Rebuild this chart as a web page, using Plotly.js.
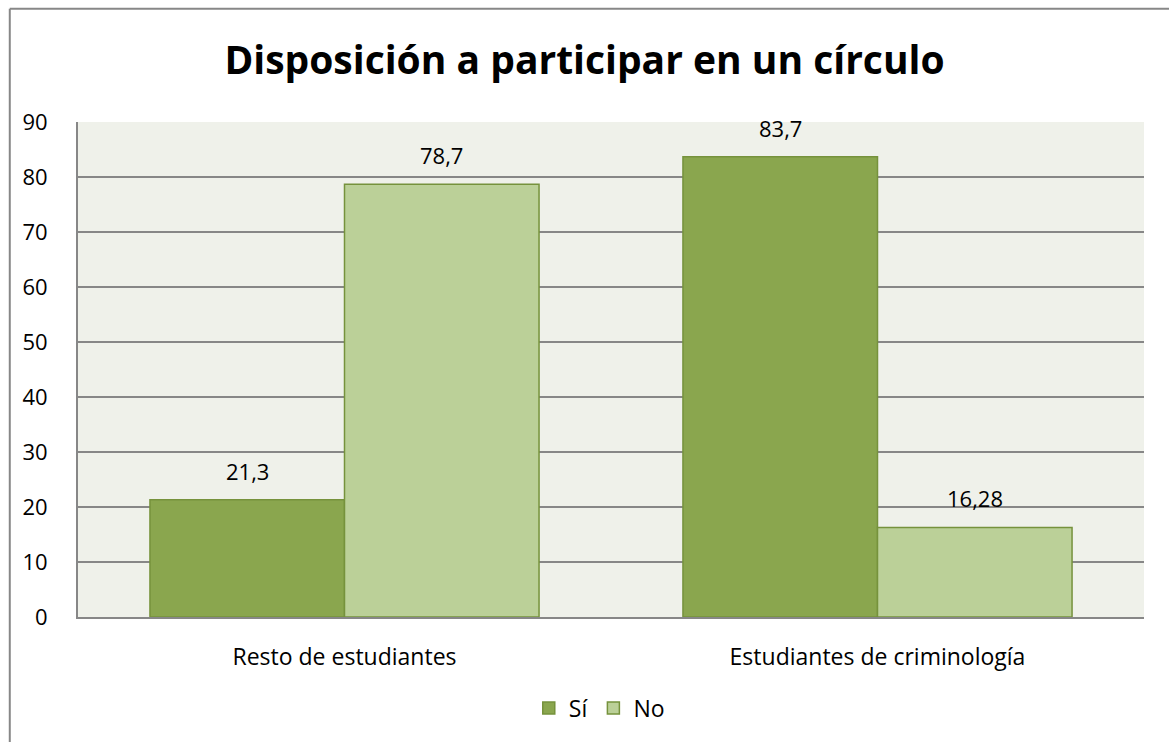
<!DOCTYPE html>
<html>
<head>
<meta charset="utf-8">
<script src="https://cdn.plot.ly/plotly-3.0.1.min.js"></script>
<style>
body{margin:0;padding:0;background:#fff;}
#chart{width:1169px;height:742px;}
</style>
</head>
<body>
<div id="chart"></div>
<script>
var categories = ["Resto de estudiantes", "Estudiantes de criminología"];
var siValues = [21.3, 83.7];
var noValues = [78.7, 16.28];
var seriesNames = ["Sí", "No"];

function label(v){ return String(v).replace(".", ","); }

var fontFam = "'Open Sans', 'Liberation Sans', sans-serif";

var data = [
  {
    type: "bar",
    name: seriesNames[0],
    x: categories,
    y: siValues,
    marker: {color: "#8AA64E", line: {color: "#76923C", width: 1.5}},
    hoverinfo: "none"
  },
  {
    type: "bar",
    name: seriesNames[1],
    x: categories,
    y: noValues,
    marker: {color: "#BBD098", line: {color: "#76923C", width: 1.5}},
    hoverinfo: "none"
  }
];

// value labels above each bar
var annotations = [];
var offsets = [-97, 97];
[siValues, noValues].forEach(function(vals, s){
  vals.forEach(function(v, i){
    annotations.push({
      x: categories[i], y: v, xref: "x", yref: "y",
      text: label(v), showarrow: false,
      xshift: offsets[s], yshift: 12, yanchor: "bottom",
      font: {family: fontFam, size: 22, color: "#000"}
    });
  });
});

var layout = {
  width: 1169,
  height: 742,
  margin: {l: 78, r: 25, t: 122, b: 125},
  paper_bgcolor: "#ffffff",
  plot_bgcolor: "#EFF1EA",
  barmode: "group",
  bargap: 0.27,
  bargroupgap: 0,
  font: {family: fontFam, size: 22, color: "#000"},
  title: {
    text: "<b>Disposición a participar en un círculo</b>",
    font: {family: fontFam, size: 39, color: "#000"},
    x: 0.5, xanchor: "center",
    y: 0.918, yanchor: "middle"
  },
  xaxis: {
    type: "category",
    showline: true, linecolor: "#878787", linewidth: 2,
    showgrid: false,
    ticks: "",
    ticklabelstandoff: 18,
    tickfont: {family: fontFam, size: 23, color: "#000"}
  },
  yaxis: {
    range: [0, 90],
    dtick: 10,
    showline: true, linecolor: "#878787", linewidth: 2,
    gridcolor: "#878787", gridwidth: 1.5,
    zeroline: false,
    ticks: "",
    ticklabelstandoff: 24,
    tickfont: {family: fontFam, size: 22, color: "#000"}
  },
  annotations: annotations,
  showlegend: true,
  legend: {
    orientation: "h",
    x: 0.489, xanchor: "center",
    y: -0.184, yanchor: "middle",
    font: {family: fontFam, size: 23, color: "#000"},
    itemwidth: 30,
    traceorder: "normal"
  },
  shapes: [
    {type: "line", xref: "paper", yref: "paper", x0: -0.064, x1: 1.05, y0: 1.229, y1: 1.229,
     line: {color: "#878787", width: 2}},
    {type: "line", xref: "paper", yref: "paper", x0: -0.064, x1: -0.064, y0: 1.229, y1: -0.3,
     line: {color: "#878787", width: 2}}
  ]
};

Plotly.newPlot("chart", data, layout, {displayModeBar: false, staticPlot: true});
</script>
</body>
</html>
